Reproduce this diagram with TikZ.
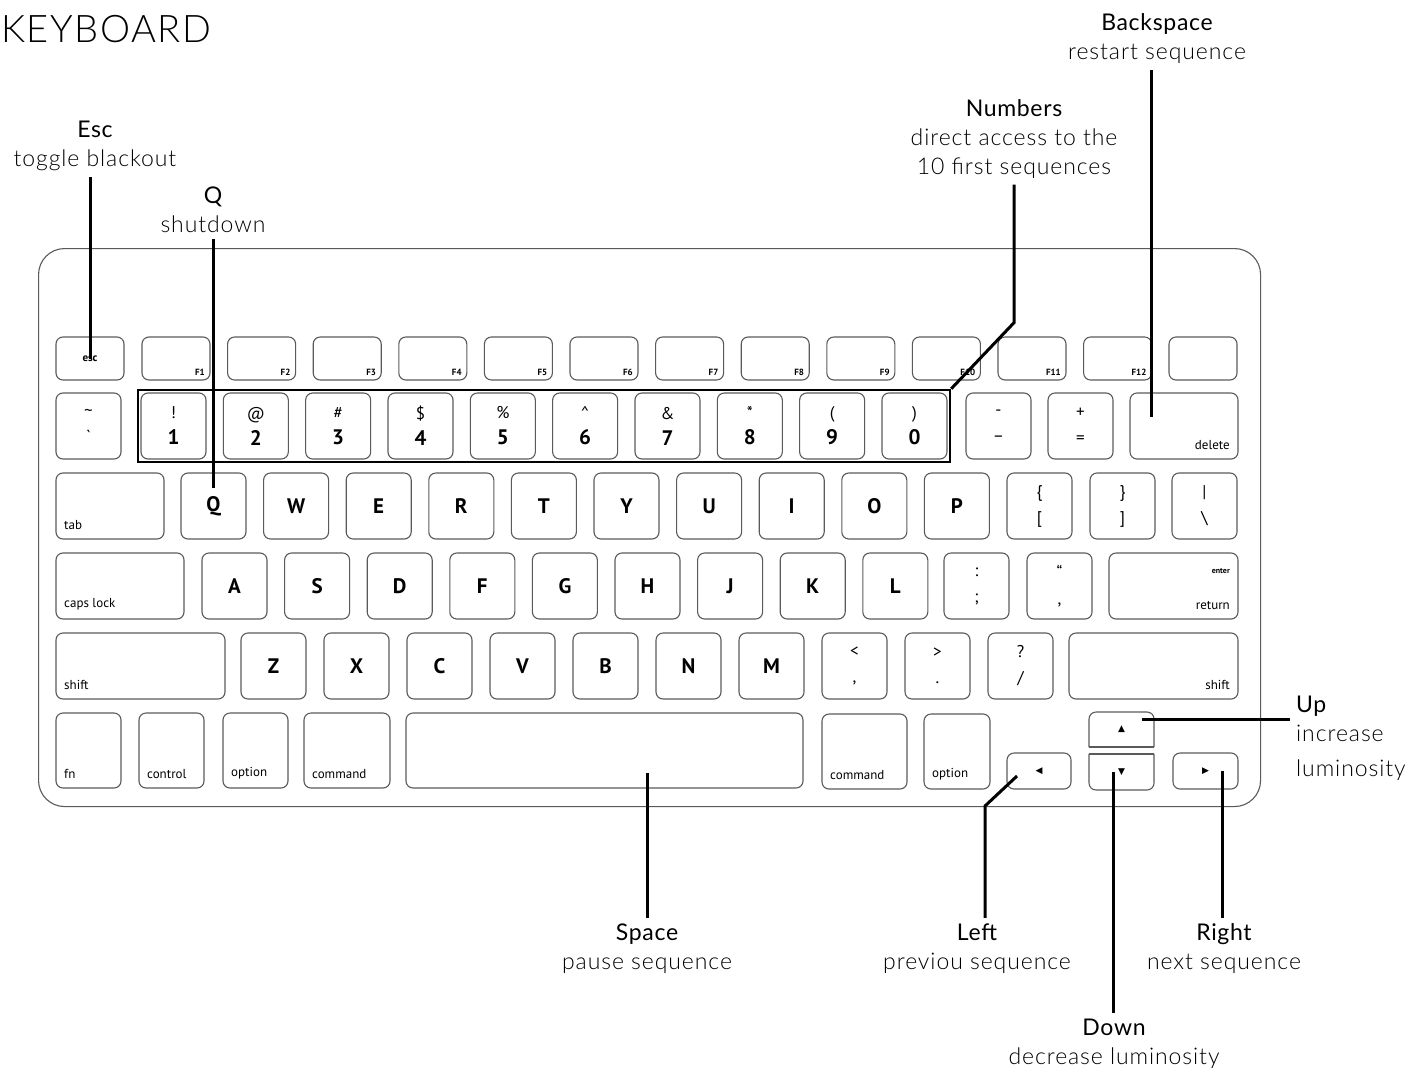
\documentclass[tikz,border=0pt]{standalone}
\usepackage{fontspec}
\setmainfont{Lato}
\newfontfamily\titlefont[LetterSpace=3]{Lato}
\IfFontExistsTF{Lato Light}{\newfontfamily\lightfont[LetterSpace=4]{Lato Light}}{\newfontfamily\lightfont[LetterSpace=4]{Lato}}
\newfontfamily\keyfont{PT Sans}
\newfontfamily\symfont{DejaVu Sans}
\usetikzlibrary{positioning,fit,calc}
\definecolor{keygray}{HTML}{5A5A5A}
\newcommand{\keypair}[2]{{\mdseries\fontsize{17}{17}\selectfont#1}\\[1pt]#2}
\newcommand{\keyduo}[2]{{\mdseries\fontsize{17}{17}\selectfont#1}\\[1pt]{\mdseries\fontsize{17}{17}\selectfont#2}}

\begin{document}
\begin{tikzpicture}[
    x=1pt, y=-1pt,
    keycap/.style={draw=keygray, line width=1.1pt, rounded corners=7pt, anchor=north west, minimum width=65pt, minimum height=66pt, inner sep=0pt, outer sep=0pt, align=center, font=\keyfont\bfseries\fontsize{21}{25}\selectfont},
    fnote/.style={font=\keyfont\bfseries\fontsize{9}{9}\selectfont, inner sep=0pt},
    note/.style={font=\keyfont\fontsize{13}{13}\selectfont, inner sep=0pt},
    fkey/.style={keycap, minimum width=68pt, minimum height=43pt, label={[fnote, anchor=south east, xshift=-5pt, yshift=4pt]south east:#1}},
    tagSW/.style={label={[note, anchor=south west, xshift=8pt, yshift=9pt]south west:#1}},
    tagSE/.style={label={[note, anchor=south east, xshift=-8pt, yshift=9pt]south east:#1}},
    arrowkey/.style={keycap, minimum height=36pt, font=\symfont\fontsize{9}{9}\selectfont},
    hint/.style={align=center, inner sep=6pt, font=\lightfont\fontsize{23}{29}\selectfont},
    lead/.style={line width=3pt, black},
]
\useasboundingbox (0,0) rectangle (1410,1068);

\node[anchor=west, inner sep=0pt, font=\lightfont\fontsize{38}{38}\selectfont] (title) at (1,29) {KEYBOARD};

\node[draw=keygray, line width=1.1pt, rounded corners=26pt, minimum width=1222pt, minimum height=558pt, anchor=north west, inner sep=0pt] (board) at (38,248) {};

% function row
\node[keycap, minimum width=68pt, minimum height=43pt, font=\keyfont\bfseries\fontsize{11}{11}\selectfont] (kEsc) at (56,337) {esc};
\foreach \i in {1,...,12}
  \node[fkey=F\i] (kF\i) at ({142+85.6*(\i-1)},337) {};
\node[keycap, minimum width=68pt, minimum height=43pt] (kBlank) at (1169,337) {};

% number row
\node[keycap] (kTilde) at (56,393) {\keyduo{\textasciitilde}{\textasciigrave}};
\foreach \s/\d [count=\i from 0] in {!/1,@/2,\#/3,\$/4,\%/5,\textasciicircum/6,\&/7,*/8,{(}/9,{)}/0}
  \node[keycap] (k\d) at ({141+82.33*\i},393) {\keypair{\s}{\d}};
\node[keycap] (kMinus) at (966,393) {\keyduo{-}{\textendash}};
\node[keycap] (kPlus) at (1048,393) {\keyduo{+}{=}};
\node[keycap, minimum width=108pt, tagSE=delete] (kDel) at (1130,393) {};
\node[fit=(k1)(k0), draw, line width=2.5pt, inner sep=3pt] (numBox) {};

% tab row
\node[keycap, minimum width=108pt, tagSW=tab] (kTab) at (56,473) {};
\foreach \c [count=\i from 0] in {Q,W,E,R,T,Y,U,I,O,P}
  \node[keycap] (k\c) at ({181+82.6*\i},473) {\c};
\node[keycap] (kBraceL) at (1007,473) {\keyduo{\{}{[}};
\node[keycap] (kBraceR) at (1090,473) {\keyduo{\}}{]}};
\node[keycap] (kBar) at (1172,473) {\keyduo{|}{\textbackslash}};

% caps row
\node[keycap, minimum width=128pt, tagSW=caps lock] (kCaps) at (56,553) {};
\foreach \c [count=\i from 0] in {A,S,D,F,G,H,J,K,L}
  \node[keycap] (k\c) at ({202+82.6*\i},553) {\c};
\node[keycap] (kColon) at (944,553) {\keyduo{:}{;}};
\node[keycap] (kQuote) at (1027,553) {\keyduo{\textquotedblleft}{,}};
\node[keycap, minimum width=129pt, tagSE=return, label={[fnote, font=\keyfont\bfseries\fontsize{8}{8}\selectfont, anchor=north east, xshift=-8pt, yshift=-15pt]north east:enter}] (kReturn) at (1109,553) {};

% shift row
\node[keycap, minimum width=169pt, tagSW=shift] (kShiftL) at (56,633) {};
\foreach \c [count=\i from 0] in {Z,X,C,V,B,N,M}
  \node[keycap] (k\c) at ({241+83*\i},633) {\c};
\node[keycap] (kComma) at (822,633) {\keyduo{<}{,}};
\node[keycap] (kPeriod) at (905,633) {\keyduo{>}{.}};
\node[keycap] (kSlash) at (988,633) {\keyduo{?}{/}};
\node[keycap, minimum width=169pt, tagSE=shift] (kShiftR) at (1069,633) {};

% bottom row
\node[keycap, minimum height=75pt, tagSW=fn] (kFn) at (56,713) {};
\node[keycap, minimum height=75pt, tagSW=control] (kCtrl) at (139,713) {};
\node[keycap, minimum height=75pt, tagSW=option] (kOptL) at (223,713) {};
\node[keycap, minimum width=86pt, minimum height=75pt, tagSW=command] (kCmdL) at (304,713) {};
\node[keycap, minimum width=397pt, minimum height=75pt] (kSpace) at (406,713) {};
\node[keycap, minimum width=85pt, minimum height=75pt, tagSW=command] (kCmdR) at (822,714) {};
\node[keycap, minimum width=66pt, minimum height=75pt, tagSW=option] (kOptR) at (924,714) {};

% arrows
\node[arrowkey, minimum width=64pt] (kLeft) at (1007,753) {◀};
\node[arrowkey, draw=none, minimum height=35pt] (kUp) at (1089,712) {▲};
\node[arrowkey, draw=none] (kDown) at (1089,754) {▼};
\node[arrowkey] (kRight) at (1173,753) {▶};
\draw[draw=keygray, line width=1.1pt, rounded corners=7pt] (kUp.south west) -- (kUp.north west) -- (kUp.north east) -- (kUp.south east);
\draw[draw=keygray, line width=1.1pt] (kUp.south west) -- (kUp.south east);
\draw[draw=keygray, line width=1.1pt, rounded corners=7pt] (kDown.north west) -- (kDown.south west) -- (kDown.south east) -- (kDown.north east);
\draw[draw=keygray, line width=1.1pt] (kDown.north west) -- (kDown.north east);

% labels
\node[hint] (lblEsc) at (95,146) {{\titlefont Esc}\\toggle blackout};
\node[hint] (lblQ) at (213,210) {{\titlefont Q}\\shutdown};
\node[hint] (lblNum) at (1014,139) {{\titlefont Numbers}\\direct access to the\\10 first sequences};
\node[hint] (lblBack) at (1157,39) {{\titlefont Backspace}\\restart sequence};
\node[hint, align=left, anchor=west] (lblUp) at (1290,738) {{\titlefont Up}\\increase\\[6pt]luminosity};
\node[hint] (lblSpace) at (647,949) {{\titlefont Space}\\pause sequence};
\node[hint] (lblLeft) at (977,949) {{\titlefont Left}\\previou sequence};
\node[hint] (lblRight) at (1224,949) {{\titlefont Right}\\next sequence};
\node[hint] (lblDown) at (1114,1044) {{\titlefont Down}\\decrease luminosity};

% leaders
\draw[lead] (lblEsc.south -| kEsc.center) -- (kEsc.center);
\draw[lead] (lblQ.south -| kQ.center) -- ([yshift=-15pt]kQ.north);
\draw[lead] (lblNum.south) -- ++(0,138) -- (numBox.north east);
\coordinate (delTip) at ([xshift=21pt, yshift=9pt]kDel.west);
\draw[lead] (lblBack.south -| delTip) -- (delTip);
\coordinate (upTip) at ([xshift=20pt, yshift=10pt]kUp.center);
\draw[lead] (upTip) -- (upTip -| lblUp.west);
\draw[lead] ([xshift=-22pt, yshift=-5pt]kLeft.center) -- ++(-32,30) coordinate (leftBend) -- (leftBend |- lblLeft.north);
\draw[lead] ([xshift=-8pt]kDown.center) -- ([xshift=-8pt]kDown.center |- lblDown.north);
\draw[lead] ([xshift=17pt]kRight.center) -- ([xshift=17pt]kRight.center |- lblRight.north);
\draw[lead] ([yshift=-22pt]kSpace.center -| lblSpace.north) -- (lblSpace.north);

\end{tikzpicture}
\end{document}
